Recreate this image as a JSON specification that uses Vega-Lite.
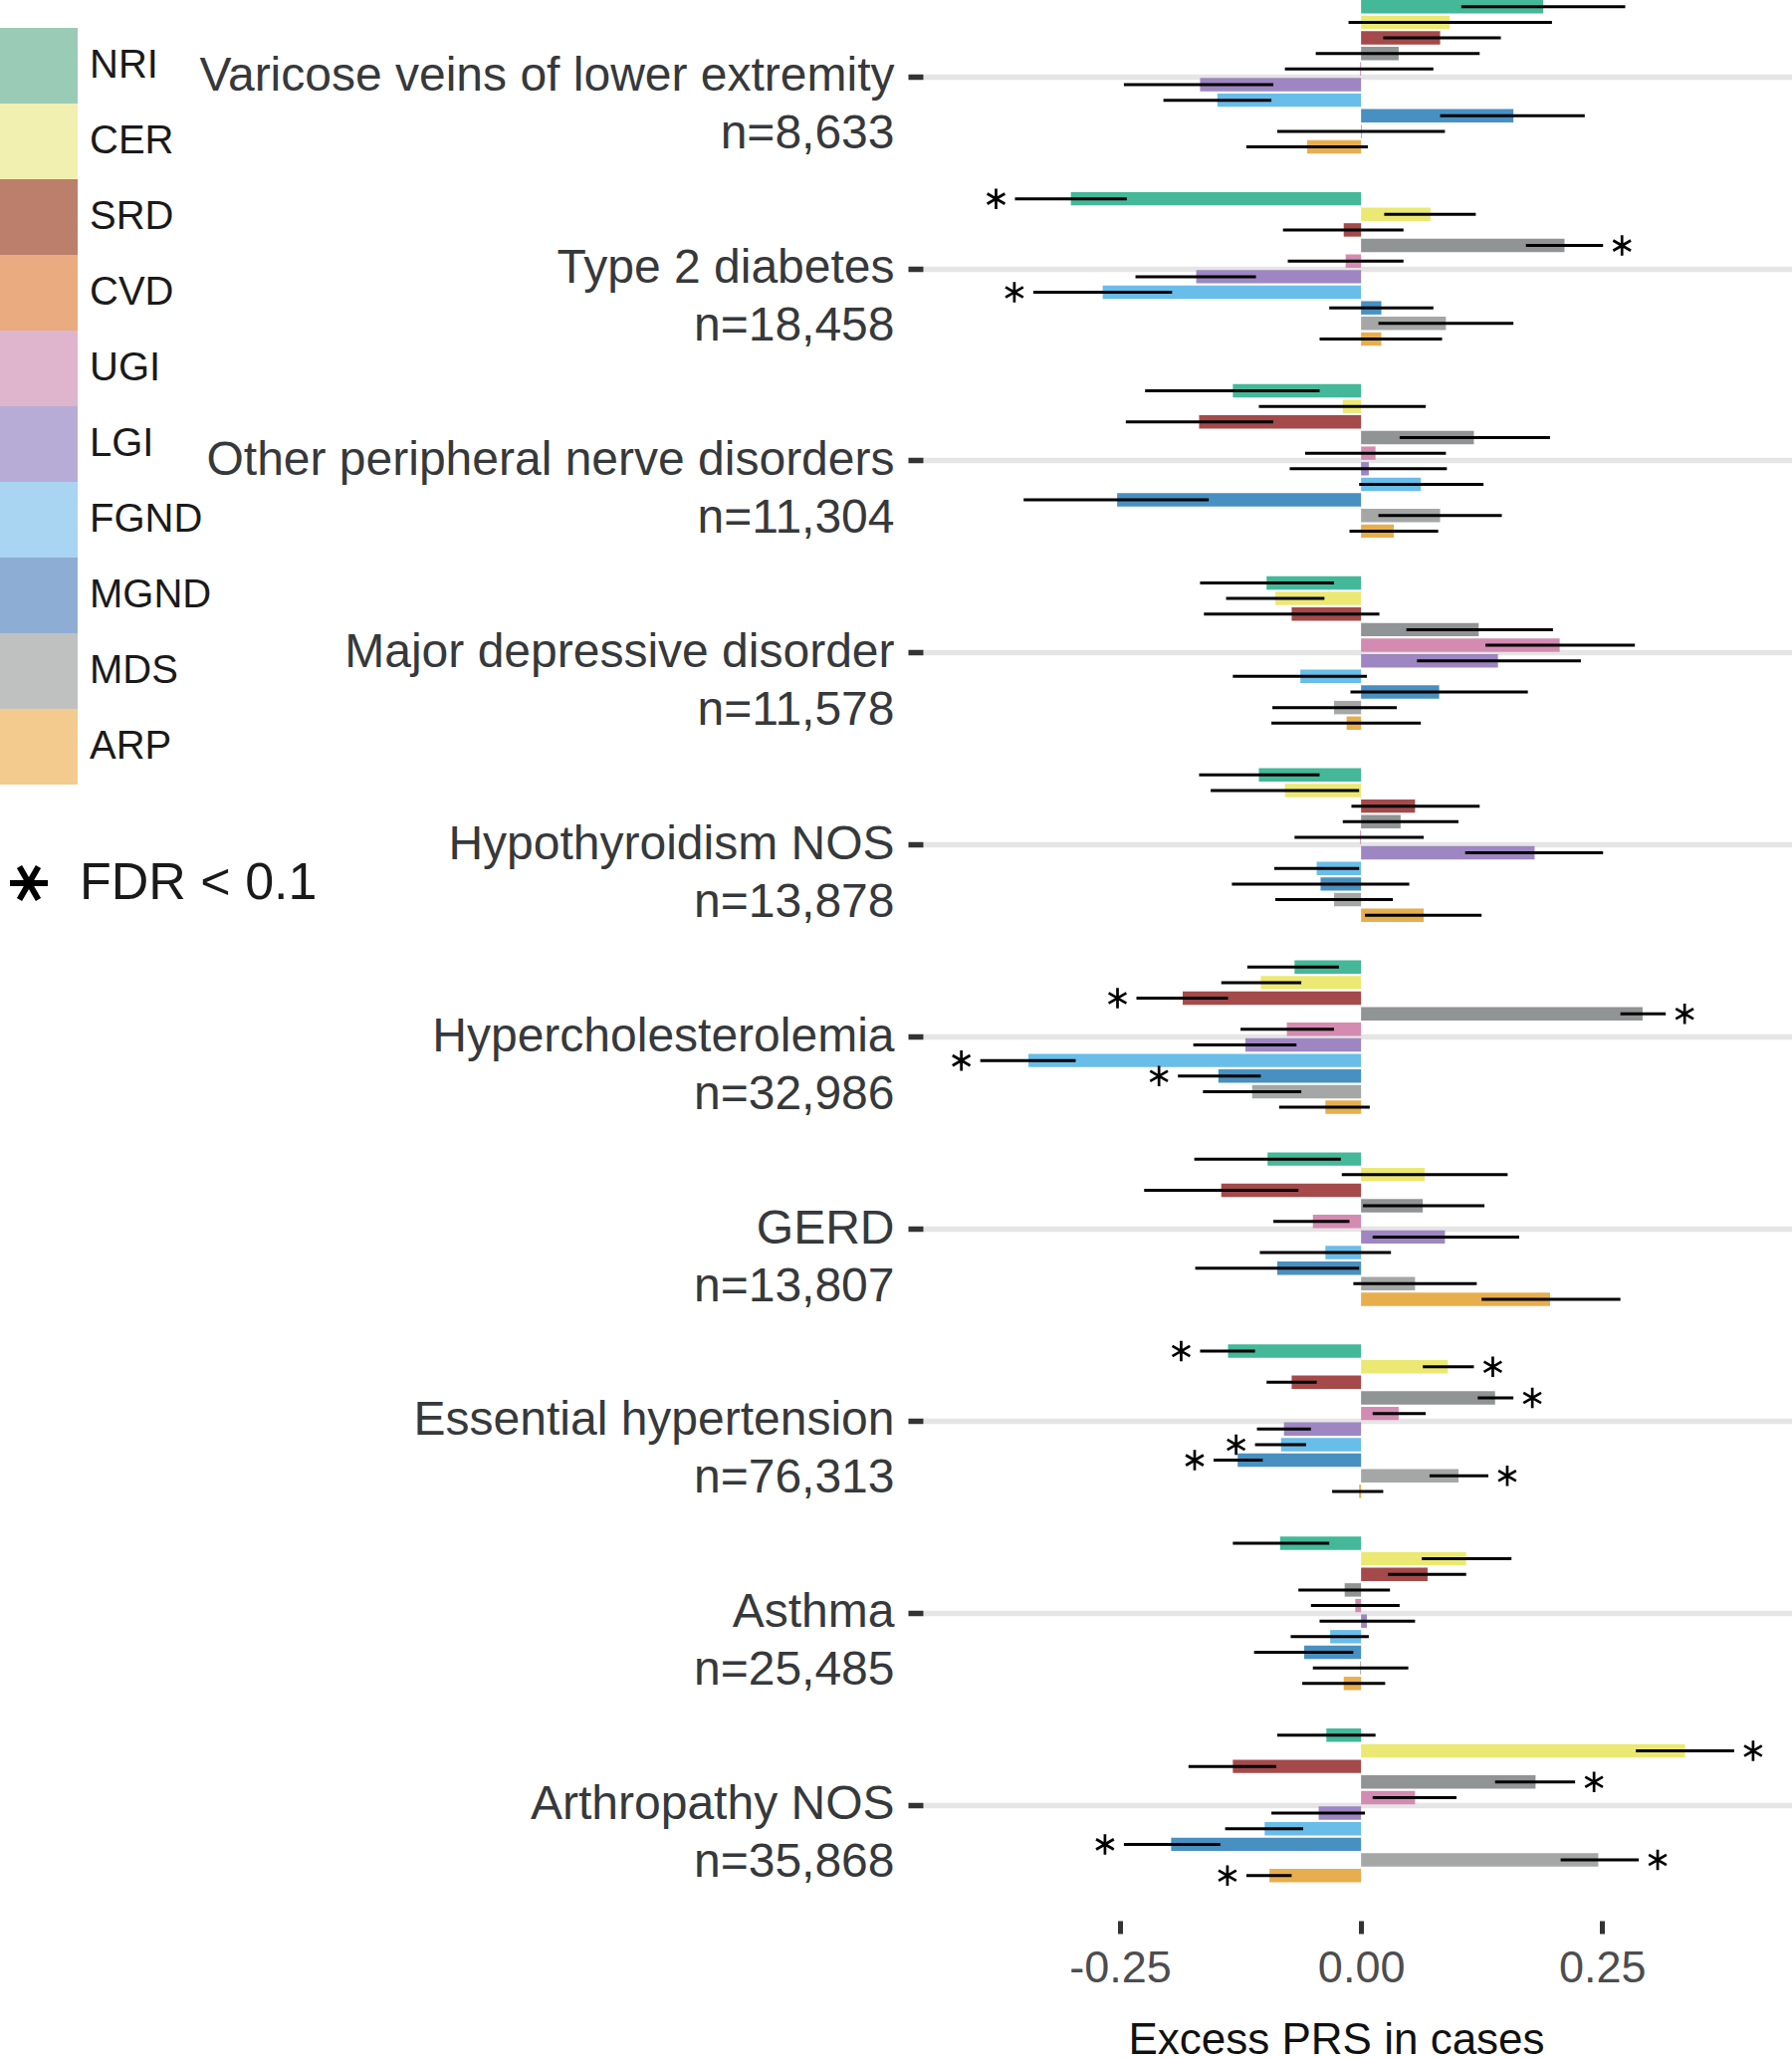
{
  "$schema": "https://vega.github.io/schema/vega-lite/v6.json",
  "width": 874,
  "height": 1929,
  "padding": 0,
  "autosize": {"type": "pad"},
  "background": "white",
  "config": {"view": {"stroke": null}, "font": "Liberation Sans"},
  "data": {"values": [
    {"d":"Varicose veins of lower extremity\nn=8,633","g":"NRI","est":0.189,"lo":0.104,"hi":0.274,"sig":0},
    {"d":"Varicose veins of lower extremity\nn=8,633","g":"CER","est":0.092,"lo":-0.013,"hi":0.198,"sig":0},
    {"d":"Varicose veins of lower extremity\nn=8,633","g":"SRD","est":0.082,"lo":0.023,"hi":0.145,"sig":0},
    {"d":"Varicose veins of lower extremity\nn=8,633","g":"CVD","est":0.039,"lo":-0.047,"hi":0.123,"sig":0},
    {"d":"Varicose veins of lower extremity\nn=8,633","g":"UGI","est":-0.001,"lo":-0.079,"hi":0.075,"sig":0},
    {"d":"Varicose veins of lower extremity\nn=8,633","g":"LGI","est":-0.167,"lo":-0.246,"hi":-0.091,"sig":0},
    {"d":"Varicose veins of lower extremity\nn=8,633","g":"FGND","est":-0.149,"lo":-0.205,"hi":-0.093,"sig":0},
    {"d":"Varicose veins of lower extremity\nn=8,633","g":"MGND","est":0.158,"lo":0.082,"hi":0.232,"sig":0},
    {"d":"Varicose veins of lower extremity\nn=8,633","g":"MDS","est":0.001,"lo":-0.087,"hi":0.087,"sig":0},
    {"d":"Varicose veins of lower extremity\nn=8,633","g":"ARP","est":-0.056,"lo":-0.119,"hi":0.007,"sig":0},

    {"d":"Type 2 diabetes\nn=18,458","g":"NRI","est":-0.301,"lo":-0.359,"hi":-0.243,"sig":1},
    {"d":"Type 2 diabetes\nn=18,458","g":"CER","est":0.072,"lo":0.024,"hi":0.119,"sig":0},
    {"d":"Type 2 diabetes\nn=18,458","g":"SRD","est":-0.018,"lo":-0.081,"hi":0.044,"sig":0},
    {"d":"Type 2 diabetes\nn=18,458","g":"CVD","est":0.211,"lo":0.171,"hi":0.251,"sig":1},
    {"d":"Type 2 diabetes\nn=18,458","g":"UGI","est":-0.016,"lo":-0.076,"hi":0.044,"sig":0},
    {"d":"Type 2 diabetes\nn=18,458","g":"LGI","est":-0.171,"lo":-0.234,"hi":-0.109,"sig":0},
    {"d":"Type 2 diabetes\nn=18,458","g":"FGND","est":-0.268,"lo":-0.340,"hi":-0.196,"sig":1},
    {"d":"Type 2 diabetes\nn=18,458","g":"MGND","est":0.021,"lo":-0.033,"hi":0.075,"sig":0},
    {"d":"Type 2 diabetes\nn=18,458","g":"MDS","est":0.088,"lo":0.018,"hi":0.158,"sig":0},
    {"d":"Type 2 diabetes\nn=18,458","g":"ARP","est":0.021,"lo":-0.043,"hi":0.084,"sig":0},

    {"d":"Other peripheral nerve disorders\nn=11,304","g":"NRI","est":-0.133,"lo":-0.224,"hi":-0.043,"sig":0},
    {"d":"Other peripheral nerve disorders\nn=11,304","g":"CER","est":-0.019,"lo":-0.106,"hi":0.067,"sig":0},
    {"d":"Other peripheral nerve disorders\nn=11,304","g":"SRD","est":-0.168,"lo":-0.244,"hi":-0.091,"sig":0},
    {"d":"Other peripheral nerve disorders\nn=11,304","g":"CVD","est":0.117,"lo":0.040,"hi":0.196,"sig":0},
    {"d":"Other peripheral nerve disorders\nn=11,304","g":"UGI","est":0.015,"lo":-0.058,"hi":0.088,"sig":0},
    {"d":"Other peripheral nerve disorders\nn=11,304","g":"LGI","est":0.008,"lo":-0.074,"hi":0.089,"sig":0},
    {"d":"Other peripheral nerve disorders\nn=11,304","g":"FGND","est":0.062,"lo":-0.002,"hi":0.127,"sig":0},
    {"d":"Other peripheral nerve disorders\nn=11,304","g":"MGND","est":-0.253,"lo":-0.350,"hi":-0.158,"sig":0},
    {"d":"Other peripheral nerve disorders\nn=11,304","g":"MDS","est":0.082,"lo":0.018,"hi":0.146,"sig":0},
    {"d":"Other peripheral nerve disorders\nn=11,304","g":"ARP","est":0.034,"lo":-0.012,"hi":0.080,"sig":0},

    {"d":"Major depressive disorder\nn=11,578","g":"NRI","est":-0.098,"lo":-0.167,"hi":-0.028,"sig":0},
    {"d":"Major depressive disorder\nn=11,578","g":"CER","est":-0.089,"lo":-0.140,"hi":-0.038,"sig":0},
    {"d":"Major depressive disorder\nn=11,578","g":"SRD","est":-0.072,"lo":-0.163,"hi":0.019,"sig":0},
    {"d":"Major depressive disorder\nn=11,578","g":"CVD","est":0.122,"lo":0.047,"hi":0.199,"sig":0},
    {"d":"Major depressive disorder\nn=11,578","g":"UGI","est":0.206,"lo":0.129,"hi":0.284,"sig":0},
    {"d":"Major depressive disorder\nn=11,578","g":"LGI","est":0.142,"lo":0.058,"hi":0.228,"sig":0},
    {"d":"Major depressive disorder\nn=11,578","g":"FGND","est":-0.063,"lo":-0.133,"hi":0.006,"sig":0},
    {"d":"Major depressive disorder\nn=11,578","g":"MGND","est":0.081,"lo":-0.011,"hi":0.173,"sig":0},
    {"d":"Major depressive disorder\nn=11,578","g":"MDS","est":-0.028,"lo":-0.092,"hi":0.037,"sig":0},
    {"d":"Major depressive disorder\nn=11,578","g":"ARP","est":-0.015,"lo":-0.093,"hi":0.062,"sig":0},

    {"d":"Hypothyroidism NOS\nn=13,878","g":"NRI","est":-0.106,"lo":-0.168,"hi":-0.043,"sig":0},
    {"d":"Hypothyroidism NOS\nn=13,878","g":"CER","est":-0.079,"lo":-0.156,"hi":-0.002,"sig":0},
    {"d":"Hypothyroidism NOS\nn=13,878","g":"SRD","est":0.056,"lo":-0.010,"hi":0.123,"sig":0},
    {"d":"Hypothyroidism NOS\nn=13,878","g":"CVD","est":0.041,"lo":-0.019,"hi":0.101,"sig":0},
    {"d":"Hypothyroidism NOS\nn=13,878","g":"UGI","est":-0.001,"lo":-0.069,"hi":0.065,"sig":0},
    {"d":"Hypothyroidism NOS\nn=13,878","g":"LGI","est":0.180,"lo":0.108,"hi":0.251,"sig":0},
    {"d":"Hypothyroidism NOS\nn=13,878","g":"FGND","est":-0.046,"lo":-0.090,"hi":-0.002,"sig":0},
    {"d":"Hypothyroidism NOS\nn=13,878","g":"MGND","est":-0.042,"lo":-0.134,"hi":0.050,"sig":0},
    {"d":"Hypothyroidism NOS\nn=13,878","g":"MDS","est":-0.028,"lo":-0.089,"hi":0.033,"sig":0},
    {"d":"Hypothyroidism NOS\nn=13,878","g":"ARP","est":0.065,"lo":0.004,"hi":0.125,"sig":0},

    {"d":"Hypercholesterolemia\nn=32,986","g":"NRI","est":-0.069,"lo":-0.118,"hi":-0.023,"sig":0},
    {"d":"Hypercholesterolemia\nn=32,986","g":"CER","est":-0.104,"lo":-0.145,"hi":-0.062,"sig":0},
    {"d":"Hypercholesterolemia\nn=32,986","g":"SRD","est":-0.185,"lo":-0.233,"hi":-0.138,"sig":1},
    {"d":"Hypercholesterolemia\nn=32,986","g":"CVD","est":0.292,"lo":0.269,"hi":0.316,"sig":1},
    {"d":"Hypercholesterolemia\nn=32,986","g":"UGI","est":-0.077,"lo":-0.125,"hi":-0.028,"sig":0},
    {"d":"Hypercholesterolemia\nn=32,986","g":"LGI","est":-0.120,"lo":-0.174,"hi":-0.067,"sig":0},
    {"d":"Hypercholesterolemia\nn=32,986","g":"FGND","est":-0.345,"lo":-0.395,"hi":-0.296,"sig":1},
    {"d":"Hypercholesterolemia\nn=32,986","g":"MGND","est":-0.148,"lo":-0.190,"hi":-0.104,"sig":1},
    {"d":"Hypercholesterolemia\nn=32,986","g":"MDS","est":-0.113,"lo":-0.164,"hi":-0.062,"sig":0},
    {"d":"Hypercholesterolemia\nn=32,986","g":"ARP","est":-0.037,"lo":-0.085,"hi":0.009,"sig":0},

    {"d":"GERD\nn=13,807","g":"NRI","est":-0.097,"lo":-0.173,"hi":-0.021,"sig":0},
    {"d":"GERD\nn=13,807","g":"CER","est":0.066,"lo":-0.020,"hi":0.152,"sig":0},
    {"d":"GERD\nn=13,807","g":"SRD","est":-0.145,"lo":-0.225,"hi":-0.065,"sig":0},
    {"d":"GERD\nn=13,807","g":"CVD","est":0.064,"lo":0.002,"hi":0.128,"sig":0},
    {"d":"GERD\nn=13,807","g":"UGI","est":-0.050,"lo":-0.091,"hi":-0.012,"sig":0},
    {"d":"GERD\nn=13,807","g":"LGI","est":0.087,"lo":0.012,"hi":0.164,"sig":0},
    {"d":"GERD\nn=13,807","g":"FGND","est":-0.037,"lo":-0.105,"hi":0.031,"sig":0},
    {"d":"GERD\nn=13,807","g":"MGND","est":-0.087,"lo":-0.172,"hi":-0.002,"sig":0},
    {"d":"GERD\nn=13,807","g":"MDS","est":0.056,"lo":-0.008,"hi":0.120,"sig":0},
    {"d":"GERD\nn=13,807","g":"ARP","est":0.196,"lo":0.125,"hi":0.269,"sig":0},

    {"d":"Essential hypertension\nn=76,313","g":"NRI","est":-0.138,"lo":-0.167,"hi":-0.110,"sig":1},
    {"d":"Essential hypertension\nn=76,313","g":"CER","est":0.090,"lo":0.064,"hi":0.117,"sig":1},
    {"d":"Essential hypertension\nn=76,313","g":"SRD","est":-0.072,"lo":-0.098,"hi":-0.046,"sig":0},
    {"d":"Essential hypertension\nn=76,313","g":"CVD","est":0.139,"lo":0.121,"hi":0.158,"sig":1},
    {"d":"Essential hypertension\nn=76,313","g":"UGI","est":0.039,"lo":0.012,"hi":0.067,"sig":0},
    {"d":"Essential hypertension\nn=76,313","g":"LGI","est":-0.080,"lo":-0.108,"hi":-0.052,"sig":0},
    {"d":"Essential hypertension\nn=76,313","g":"FGND","est":-0.083,"lo":-0.110,"hi":-0.057,"sig":1},
    {"d":"Essential hypertension\nn=76,313","g":"MGND","est":-0.128,"lo":-0.153,"hi":-0.102,"sig":1},
    {"d":"Essential hypertension\nn=76,313","g":"MDS","est":0.101,"lo":0.071,"hi":0.132,"sig":1},
    {"d":"Essential hypertension\nn=76,313","g":"ARP","est":-0.002,"lo":-0.030,"hi":0.023,"sig":0},

    {"d":"Asthma\nn=25,485","g":"NRI","est":-0.084,"lo":-0.133,"hi":-0.033,"sig":0},
    {"d":"Asthma\nn=25,485","g":"CER","est":0.109,"lo":0.063,"hi":0.156,"sig":0},
    {"d":"Asthma\nn=25,485","g":"SRD","est":0.069,"lo":0.028,"hi":0.109,"sig":0},
    {"d":"Asthma\nn=25,485","g":"CVD","est":-0.017,"lo":-0.065,"hi":0.030,"sig":0},
    {"d":"Asthma\nn=25,485","g":"UGI","est":-0.006,"lo":-0.052,"hi":0.040,"sig":0},
    {"d":"Asthma\nn=25,485","g":"LGI","est":0.006,"lo":-0.043,"hi":0.056,"sig":0},
    {"d":"Asthma\nn=25,485","g":"FGND","est":-0.032,"lo":-0.073,"hi":0.008,"sig":0},
    {"d":"Asthma\nn=25,485","g":"MGND","est":-0.059,"lo":-0.111,"hi":-0.008,"sig":0},
    {"d":"Asthma\nn=25,485","g":"MDS","est":-0.001,"lo":-0.050,"hi":0.049,"sig":0},
    {"d":"Asthma\nn=25,485","g":"ARP","est":-0.018,"lo":-0.061,"hi":0.025,"sig":0},

    {"d":"Arthropathy NOS\nn=35,868","g":"NRI","est":-0.036,"lo":-0.087,"hi":0.015,"sig":0},
    {"d":"Arthropathy NOS\nn=35,868","g":"CER","est":0.336,"lo":0.285,"hi":0.387,"sig":1},
    {"d":"Arthropathy NOS\nn=35,868","g":"SRD","est":-0.133,"lo":-0.179,"hi":-0.088,"sig":0},
    {"d":"Arthropathy NOS\nn=35,868","g":"CVD","est":0.181,"lo":0.139,"hi":0.222,"sig":1},
    {"d":"Arthropathy NOS\nn=35,868","g":"UGI","est":0.056,"lo":0.012,"hi":0.099,"sig":0},
    {"d":"Arthropathy NOS\nn=35,868","g":"LGI","est":-0.044,"lo":-0.093,"hi":0.004,"sig":0},
    {"d":"Arthropathy NOS\nn=35,868","g":"FGND","est":-0.100,"lo":-0.141,"hi":-0.060,"sig":0},
    {"d":"Arthropathy NOS\nn=35,868","g":"MGND","est":-0.197,"lo":-0.246,"hi":-0.146,"sig":1},
    {"d":"Arthropathy NOS\nn=35,868","g":"MDS","est":0.246,"lo":0.207,"hi":0.288,"sig":1},
    {"d":"Arthropathy NOS\nn=35,868","g":"ARP","est":-0.095,"lo":-0.119,"hi":-0.072,"sig":1}
  ]},
  "layer": [
    {
      "mark": {"type": "bar"},
      "encoding": {
        "y": {
          "field": "d", "type": "nominal", "sort": null, "title": null,
          "scale": {"type": "band", "paddingInner": 0.2, "paddingOuter": 0.1, "align": 0},
          "axis": {
            "domain": false, "ticks": true, "tickSize": 15, "tickWidth": 5.5, "tickColor": "#333333",
            "grid": true, "gridColor": "#e5e5e5", "gridWidth": 5.5, "bandPosition": 0.5,
            "labelFont": "Liberation Sans", "labelFontSize": 48, "labelColor": "#36393b",
            "labelPadding": 14, "labelLimit": 1200, "labelAlign": "right",
            "labelExpr": "split(datum.value, '\\n')", "labelLineHeight": 58,
            "labelBaseline": "middle", "labelOffset": 0
          }
        },
        "yOffset": {
          "field": "g", "type": "nominal",
          "sort": ["NRI","CER","SRD","CVD","UGI","LGI","FGND","MGND","MDS","ARP"],
          "scale": {"paddingInner": 0.14, "paddingOuter": 0}
        },
        "x": {
          "field": "est", "type": "quantitative", "title": "Excess PRS in cases",
          "scale": {"domain": [-0.4545, 0.448], "nice": false},
          "axis": {
            "values": [-0.25, 0, 0.25], "domain": false, "grid": false,
            "tickSize": 13, "tickWidth": 5, "tickColor": "#333333",
            "labelFont": "Liberation Sans", "labelFontSize": 45, "labelColor": "#4d4d4d", "labelPadding": 12,
            "labelExpr": "replace(format(datum.value, '.2f'), '\u2212', '-')",
            "titleFont": "Liberation Sans", "titleFontSize": 44, "titleFontWeight": "normal", "titleColor": "#111111", "titlePadding": 28,
            "titleX": 415
          }
        },
        "color": {
          "field": "g", "type": "nominal", "legend": null,
          "scale": {
            "domain": ["NRI","CER","SRD","CVD","UGI","LGI","FGND","MGND","MDS","ARP"],
            "range": ["#44b899","#ebe973","#a44a4a","#919494","#d48bb1","#9e86c2","#69bde9","#4890c1","#a5a7a7","#e8ae4d"]
          }
        }
      }
    },
    {
      "mark": {"type": "rule", "strokeWidth": 3, "color": "#000000"},
      "encoding": {
        "y": {"field": "d", "type": "nominal", "sort": null},
        "yOffset": {"field": "g", "type": "nominal", "sort": ["NRI","CER","SRD","CVD","UGI","LGI","FGND","MGND","MDS","ARP"]},
        "x": {"field": "lo", "type": "quantitative"},
        "x2": {"field": "hi"}
      }
    },
    {
      "transform": [{"filter": "datum.sig == 1 && datum.est < 0"}],
      "mark": {"type": "point", "shape": "M0,-1L0,1M-0.866,-0.5L0.866,0.5M-0.866,0.5L0.866,-0.5", "filled": false, "size": 420, "strokeWidth": 2.7, "color": "#000000", "opacity": 1, "xOffset": -19},
      "encoding": {
        "y": {"field": "d", "type": "nominal", "sort": null},
        "yOffset": {"field": "g", "type": "nominal", "sort": ["NRI","CER","SRD","CVD","UGI","LGI","FGND","MGND","MDS","ARP"]},
        "x": {"field": "lo", "type": "quantitative"}
      }
    },
    {
      "transform": [{"filter": "datum.sig == 1 && datum.est > 0"}],
      "mark": {"type": "point", "shape": "M0,-1L0,1M-0.866,-0.5L0.866,0.5M-0.866,0.5L0.866,-0.5", "filled": false, "size": 420, "strokeWidth": 2.7, "color": "#000000", "opacity": 1, "xOffset": 19},
      "encoding": {
        "y": {"field": "d", "type": "nominal", "sort": null},
        "yOffset": {"field": "g", "type": "nominal", "sort": ["NRI","CER","SRD","CVD","UGI","LGI","FGND","MGND","MDS","ARP"]},
        "x": {"field": "hi", "type": "quantitative"}
      }
    },
    {
      "data": {"values": [{"cat":"NRI"},{"cat":"CER"},{"cat":"SRD"},{"cat":"CVD"},{"cat":"UGI"},{"cat":"LGI"},{"cat":"FGND"},{"cat":"MGND"},{"cat":"MDS"},{"cat":"ARP"}]},
      "transform": [{"filter": "false"}],
      "mark": {"type": "square", "opacity": 1},
      "encoding": {
        "fill": {
          "field": "cat", "type": "nominal",
          "scale": {
            "domain": ["ARP","MDS","MGND","FGND","LGI","UGI","CVD","SRD","CER","NRI"],
            "range": ["#f3cb8f","#bfc1c0","#8eadd4","#aad5f2","#b7acd6","#deb5cc","#eaab81","#bc7f6b","#f2f0b0","#99cbb6"]
          },
          "legend": {
            "values": ["NRI","CER","SRD","CVD","UGI","LGI","FGND","MGND","MDS","ARP"],
            "orient": "none", "legendX": -927, "legendY": 28, "title": null, "padding": 0,
            "direction": "vertical", "rowPadding": 0,
            "symbolType": "M-1.0526,-1H1.0526V1H-1.0526Z", "symbolSize": 5776,
            "symbolStrokeWidth": 0, "symbolOpacity": 1,
            "labelFont": "Liberation Sans", "labelFontSize": 40, "labelColor": "#1a1a1a", "labelOffset": 14, "labelLimit": 300
          }
        }
      }
    },
    {
      "data": {"values": [{"k": "FDR < 0.1"}]},
      "transform": [{"filter": "false"}],
      "mark": {"type": "point", "filled": false, "color": "#000000"},
      "encoding": {
        "shape": {
          "field": "k", "type": "nominal",
          "scale": {"domain": ["FDR < 0.1"], "range": ["M-1,0L1,0M-0.5,-0.866L0.5,0.866M-0.5,0.866L0.5,-0.866"]},
          "legend": {
            "orient": "none", "legendX": -924, "legendY": 861, "title": null, "padding": 0,
            "symbolSize": 1444, "symbolStrokeWidth": 6, "symbolStrokeColor": "#000000",
            "symbolFillColor": "transparent", "symbolOpacity": 1,
            "labelFont": "Liberation Sans", "labelFontSize": 52, "labelColor": "#1a1a1a", "labelOffset": 25, "labelLimit": 500
          }
        }
      }
    }
  ]
}
